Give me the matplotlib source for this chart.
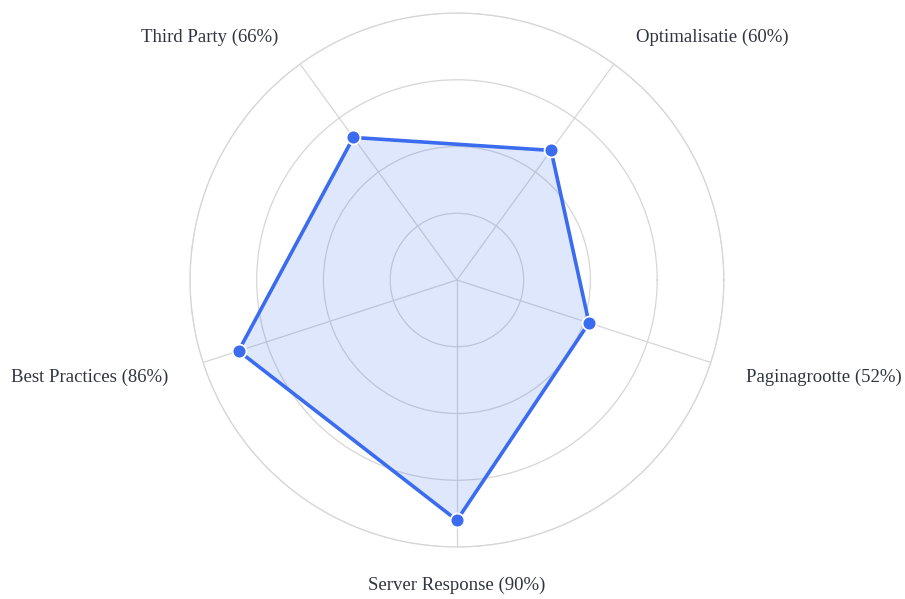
import numpy as np
import matplotlib.pyplot as plt

categories = ['Server Response', 'Paginagrootte', 'Optimalisatie', 'Third Party', 'Best Practices']
values = [90, 52, 60, 66, 86]
label_texts = [f'{c} ({v}%)' for c, v in zip(categories, values)]

LINE = '#3b6cf0'
TEXT = '#2e3440'
GRID = '#d6d6d6'

plt.rcParams['font.family'] = ['Liberation Serif', 'DejaVu Serif']

fig = plt.figure(figsize=(9.05, 5.99), dpi=100)
ax = fig.add_axes([0.2099, 0.0868, 0.590, 0.8915], projection='polar')

# first axis points straight down, then counter-clockwise
angles = np.deg2rad((270 + 72 * np.arange(len(categories))) % 360)

closed_a = np.append(angles, angles[0])
closed_v = np.append(values, values[0])
ax.fill(closed_a, closed_v, color=LINE, alpha=0.16, lw=0, zorder=2)
ax.plot(closed_a, closed_v, color=LINE, lw=2.6, zorder=3)
ax.plot(angles, values, 'o', ms=10, color=LINE, mec='white', mew=1.3, zorder=4, clip_on=False)

ax.set_thetalim(0, 2 * np.pi)
ax.set_ylim(0, 100)
ax.set_yticks([25, 50, 75, 100])
ax.set_yticklabels([])
ax.set_xticks(angles)
ax.set_xticklabels([])
ax.grid(color=GRID, lw=0.9)
ax.spines['polar'].set_color(GRID)
ax.spines['polar'].set_linewidth(0.9)

# label offsets in pixels from the axis end
offsets = [(0, -38, 'center'),
           (35, -14.5, 'left'),
           (22, 27, 'left'),
           (-22, 27, 'right'),
           (-35, -14.5, 'right')]
for a, txt, (dx, dy, ha) in zip(angles, label_texts, offsets):
    ax.annotate(txt, xy=(a, 100), xytext=(dx * 0.72, dy * 0.72), textcoords='offset points',
                ha=ha, va='center', fontsize=13.5, color=TEXT, annotation_clip=False)

fig.savefig('out.png', dpi=100)
